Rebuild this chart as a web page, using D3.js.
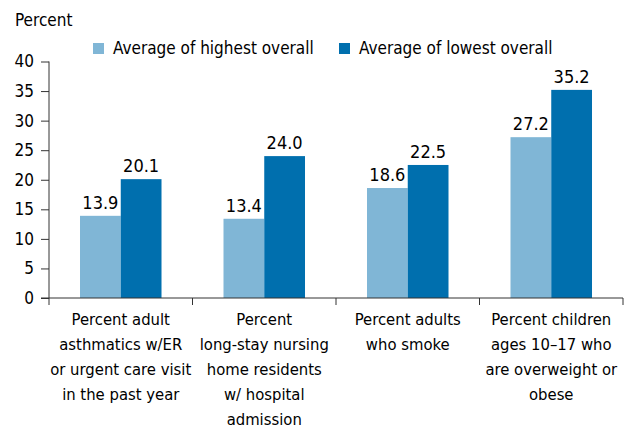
<!DOCTYPE html>
<html>
<head>
<meta charset="utf-8">
<title>chart</title>
<style>
  body { margin: 0; background: #fff; }
  svg text { font-family: "Liberation Sans Narrow", "DejaVu Sans Condensed", "DejaVu Sans", sans-serif; font-stretch: condensed; fill: #000; }
</style>
</head>
<body>
<svg width="629" height="428"></svg>
<script src="https://d3js.org/d3.v7.min.js"></script>
<script>
var categories = [
  ["Percent adult", "asthmatics w/ER", "or urgent care visit", "in the past year"],
  ["Percent", "long-stay nursing", "home residents", "w/ hospital", "admission"],
  ["Percent adults", "who smoke"],
  ["Percent children", "ages 10\u201317 who", "are overweight or", "obese"]
];
var seriesNames = ["Average of highest overall", "Average of lowest overall"];
var highest = [13.9, 13.4, 18.6, 27.2];
var lowest = [20.1, 24.0, 22.5, 35.2];
var yTicks = [0, 5, 10, 15, 20, 25, 30, 35, 40];
var colors = ["#80b6d6", "#006fae"];

var svg = d3.select("svg");
var mLeft = 49, mRight = 623, mTop = 61.5, mBottom = 298;

var x0 = d3.scaleBand().domain(d3.range(categories.length)).range([mLeft, mRight]);
var bw = x0.bandwidth();
var x1 = d3.scaleBand().domain([0, 1]).range([bw * 0.216, bw * 0.784]);
var y = d3.scaleLinear().domain([0, 40]).range([mBottom, mTop]);

// y axis
var yAxis = svg.append("g")
    .attr("transform", "translate(" + mLeft + ",0)")
    .call(d3.axisLeft(y).tickValues(yTicks).tickSize(8).tickPadding(7));
yAxis.select(".domain").remove();
yAxis.selectAll("line").attr("stroke", "#333");
yAxis.selectAll("text").style("font-size", "17px").attr("fill", "#000")
    .style("font-family", null);
svg.append("line")
    .attr("x1", mLeft).attr("x2", mLeft)
    .attr("y1", y(40)).attr("y2", y(0))
    .attr("stroke", "#333");

svg.append("text")
    .attr("x", 15).attr("y", 26)
    .style("font-size", "17px")
    .text("Percent");

// bars
var groups = svg.append("g").selectAll("g")
    .data(categories)
    .enter().append("g")
    .attr("transform", function(d, i) { return "translate(" + x0(i) + ",0)"; });

var values = [highest, lowest];
groups.each(function(d, i) {
  var g = d3.select(this);
  [0, 1].forEach(function(s) {
    var v = values[s][i];
    g.append("rect")
      .attr("x", x1(s))
      .attr("width", x1.bandwidth())
      .attr("y", y(v))
      .attr("height", y(0) - y(v))
      .attr("fill", colors[s]);
    g.append("text")
      .attr("x", x1(s) + x1.bandwidth() / 2)
      .attr("y", y(v) - 7)
      .attr("text-anchor", "middle")
      .style("font-size", "18px")
      .text(v.toFixed(1));
  });
});

// x axis
svg.append("line")
    .attr("x1", mLeft - 8).attr("x2", mRight)
    .attr("y1", mBottom).attr("y2", mBottom)
    .attr("stroke", "#333");
svg.append("g").selectAll("line")
    .data(d3.range(categories.length + 1))
    .enter().append("line")
    .attr("x1", function(d) { return mLeft + d * bw; })
    .attr("x2", function(d) { return mLeft + d * bw; })
    .attr("y1", mBottom).attr("y2", mBottom + 7)
    .attr("stroke", "#333");

groups.append("text")
    .attr("text-anchor", "middle")
    .style("font-size", "16.5px")
    .selectAll("tspan")
    .data(function(d) { return d; })
    .enter().append("tspan")
    .attr("x", bw / 2)
    .attr("y", function(d, j) { return 325 + j * 25; })
    .text(function(d) { return d; });

// legend
var legendX = [93, 339];
var legend = svg.append("g").selectAll("g")
    .data(seriesNames)
    .enter().append("g")
    .attr("transform", function(d, i) { return "translate(" + legendX[i] + ",43)"; });
legend.append("rect")
    .attr("width", 11).attr("height", 11)
    .attr("fill", function(d, i) { return colors[i]; });
legend.append("text")
    .attr("x", 20).attr("y", 10.5)
    .style("font-size", "17px")
    .text(function(d) { return d; });
</script>
</body>
</html>
